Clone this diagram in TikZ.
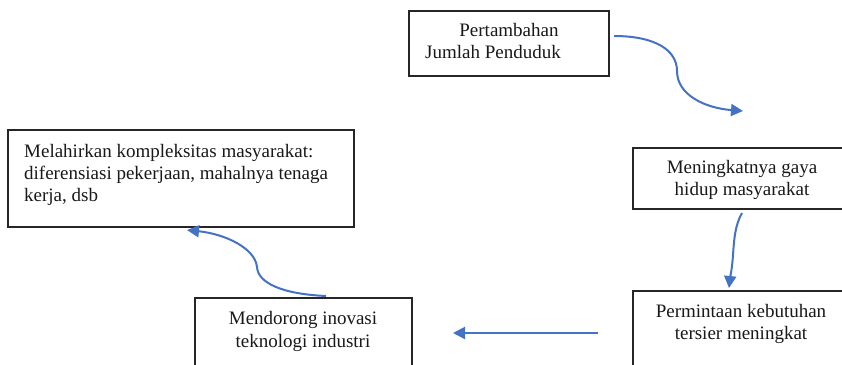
\documentclass[tikz,border=0pt]{standalone}
\usepackage{fontspec}
\setmainfont{Liberation Serif}
\usetikzlibrary{arrows.meta}
\definecolor{arrowblue}{HTML}{4472C4}
\definecolor{boxline}{HTML}{262626}
\tikzset{
  box/.style={draw=boxline, line width=1.7pt},
  txt/.style={inner sep=0pt, anchor=base, font=\fontsize{19}{22}\selectfont, text=black!90},
  txtl/.style={txt, anchor=base west},
  flow/.style={draw=arrowblue, line width=2pt, -{Triangle[length=12pt,width=12pt]}}
}
\begin{document}
\begin{tikzpicture}[x=1pt,y=-1pt]
\clip (0,0) rectangle (842,364);
\fill[white] (0,0) rectangle (842,364);
% boxes
\draw[box] (409,11) rectangle (609,76);
\draw[box] (633,148) rectangle (860,209);
\draw[box] (633,291) rectangle (860,380);
\draw[box] (195,298) rectangle (412,380);
\draw[box] (8,130) rectangle (354,227);
% texts
\node[txt]  (t1a) at (509,36) {Pertambahan};
\node[txtl] (t1b) at (425,58) {Jumlah Penduduk};
\node[txt]  (t2a) at (742,173) {Meningkatnya gaya};
\node[txt]  (t2b) at (742,195) {hidup masyarakat};
\node[txt]  (t3a) at (741,317) {Permintaan kebutuhan};
\node[txt]  (t3b) at (741,339) {tersier meningkat};
\node[txt]  (t4a) at (303,324) {Mendorong inovasi};
\node[txt]  (t4b) at (303,347) {teknologi industri};
\node[txtl] (t5a) at (24,157) {Melahirkan kompleksitas masyarakat:};
\node[txtl] (t5b) at (24,179) {diferensiasi pekerjaan, mahalnya tenaga};
\node[txtl] (t5c) at (24,201) {kerja, dsb};
% arrow endpoints
\coordinate (a1s) at (614,36);
\coordinate (a1e) at (743,111);
\coordinate (a2s) at (742,213);
\coordinate (a2e) at (729,288);
\coordinate (a3s) at (598,333);
\coordinate (a3e) at (453,333);
\coordinate (a4s) at (326,296);
\coordinate (a4e) at (187,230);
% arrows
\draw[flow] (a1s) .. controls (655,36) and (677,50) .. (677,71) .. controls (677,95) and (705,108) .. (a1e);
\draw[flow] (a2s) .. controls (735,225) and (734,240) .. (733,255) .. controls (732,270) and (730,278) .. (a2e);
\draw[flow] (a3s) -- (a3e);
\draw[flow] (a4s) .. controls (282,294) and (258,283) .. (257,267) .. controls (255,248) and (225,234) .. (a4e);
\end{tikzpicture}
\end{document}
